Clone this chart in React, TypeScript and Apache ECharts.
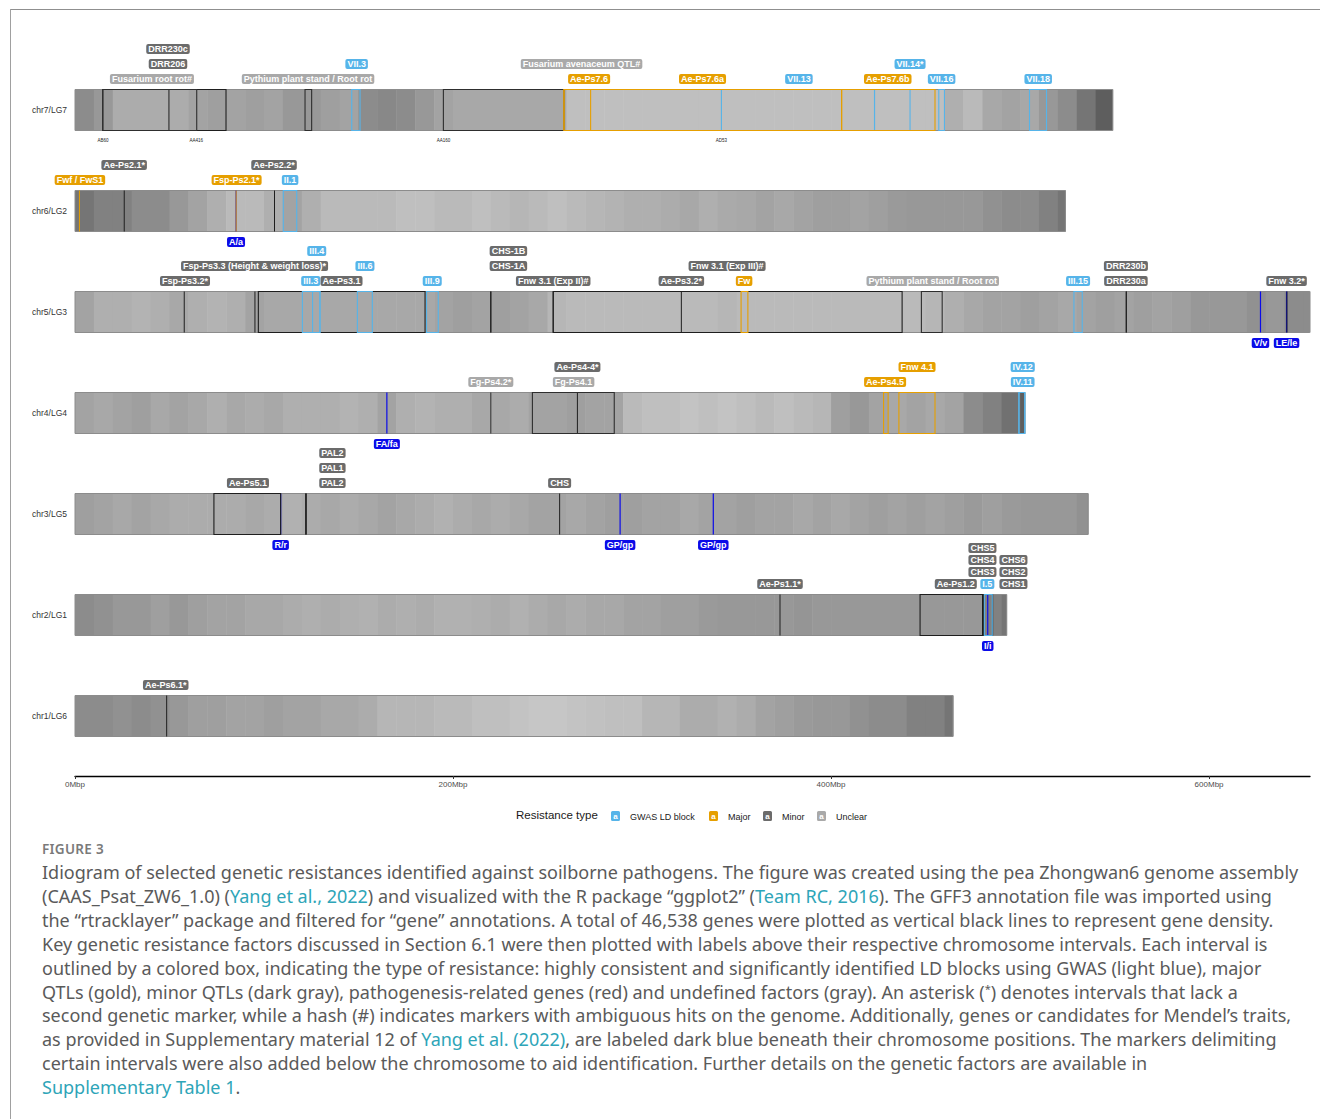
import React, { useEffect, useRef } from "react";
import * as echarts from "echarts";

const FONT = '"Liberation Sans", Arial, Helvetica, sans-serif';

const chromosomes = ["chr7/LG7", "chr6/LG2", "chr5/LG3", "chr4/LG4", "chr3/LG5", "chr2/LG1", "chr1/LG6"];
const chromLengths = [549, 524, 653.3, 502.5, 536, 492.9, 464.5];
const labelRowGap = [15, 15, 15, 15, 15, 12, 15];
const binSize = 10;
const xTicks = [0, 200, 400, 600];

// gene density (darkness 0..1) per 10 Mbp bin
const density_chr7 = [0.5, 0.45, 0.36, 0.36, 0.36, 0.36, 0.4, 0.42, 0.4, 0.42,
  0.4, 0.45, 0.45, 0.42, 0.4, 0.5, 0.52, 0.5, 0.45, 0.4,
  0.38, 0.38, 0.38, 0.38, 0.38, 0.38, 0.28, 0.28, 0.28, 0.28,
  0.28, 0.28, 0.28, 0.28, 0.28, 0.28, 0.28, 0.28, 0.28, 0.28,
  0.28, 0.28, 0.28, 0.28, 0.28, 0.28, 0.35, 0.3, 0.38, 0.4,
  0.38, 0.45, 0.5, 0.6, 0.7];
const density_chr6 = [0.6, 0.55, 0.55, 0.5, 0.5, 0.45, 0.4, 0.35, 0.3, 0.3,
  0.35, 0.4, 0.35, 0.3, 0.3, 0.3, 0.3, 0.28, 0.28, 0.3,
  0.3, 0.28, 0.3, 0.32, 0.3, 0.28, 0.3, 0.32, 0.33, 0.35,
  0.35, 0.36, 0.38, 0.35, 0.37, 0.38, 0.4, 0.38, 0.4, 0.42,
  0.42, 0.4, 0.42, 0.44, 0.45, 0.45, 0.45, 0.45, 0.48, 0.5,
  0.5, 0.55, 0.6];
const density_chr5 = [0.4, 0.35, 0.35, 0.33, 0.35, 0.38, 0.35, 0.33, 0.35, 0.4,
  0.38, 0.38, 0.38, 0.38, 0.38, 0.38, 0.38, 0.38, 0.38, 0.4,
  0.42, 0.4, 0.42, 0.4, 0.38, 0.32, 0.3, 0.3, 0.3, 0.3,
  0.3, 0.3, 0.3, 0.3, 0.32, 0.3, 0.3, 0.3, 0.3, 0.3,
  0.3, 0.3, 0.3, 0.3, 0.3, 0.32, 0.35, 0.38, 0.4, 0.4,
  0.42, 0.4, 0.38, 0.4, 0.42, 0.4, 0.42, 0.4, 0.42, 0.45,
  0.45, 0.45, 0.48, 0.45, 0.5, 0.5];
const density_chr4 = [0.4, 0.38, 0.4, 0.42, 0.38, 0.4, 0.38, 0.35, 0.38, 0.36,
  0.38, 0.35, 0.35, 0.35, 0.33, 0.35, 0.4, 0.35, 0.33, 0.35,
  0.35, 0.38, 0.38, 0.36, 0.4, 0.4, 0.42, 0.4, 0.4, 0.3,
  0.28, 0.28, 0.26, 0.28, 0.26, 0.28, 0.3, 0.28, 0.3, 0.32,
  0.42, 0.45, 0.4, 0.38, 0.4, 0.38, 0.4, 0.5, 0.55, 0.62,
  0.7];
const density_chr3 = [0.42, 0.4, 0.38, 0.4, 0.38, 0.36, 0.36, 0.36, 0.36, 0.38,
  0.36, 0.34, 0.36, 0.38, 0.36, 0.38, 0.4, 0.38, 0.36, 0.34,
  0.36, 0.38, 0.36, 0.38, 0.4, 0.4, 0.38, 0.4, 0.42, 0.42,
  0.4, 0.4, 0.38, 0.4, 0.4, 0.42, 0.4, 0.4, 0.38, 0.4,
  0.38, 0.4, 0.42, 0.4, 0.42, 0.4, 0.42, 0.44, 0.42, 0.44,
  0.45, 0.45, 0.45, 0.48];
const density_chr2 = [0.5, 0.48, 0.45, 0.45, 0.42, 0.45, 0.42, 0.4, 0.4, 0.38,
  0.38, 0.36, 0.35, 0.36, 0.35, 0.34, 0.36, 0.35, 0.36, 0.34,
  0.34, 0.35, 0.36, 0.34, 0.36, 0.38, 0.36, 0.38, 0.38, 0.4,
  0.4, 0.42, 0.42, 0.44, 0.45, 0.45, 0.45, 0.45, 0.46, 0.45,
  0.45, 0.45, 0.45, 0.45, 0.45, 0.45, 0.45, 0.45, 0.55, 0.6];
const density_chr1 = [0.5, 0.5, 0.48, 0.5, 0.48, 0.45, 0.42, 0.42, 0.4, 0.4,
  0.42, 0.4, 0.4, 0.38, 0.38, 0.36, 0.32, 0.32, 0.32, 0.3,
  0.3, 0.28, 0.28, 0.26, 0.25, 0.25, 0.26, 0.27, 0.28, 0.28,
  0.32, 0.32, 0.36, 0.36, 0.34, 0.36, 0.4, 0.42, 0.44, 0.45,
  0.45, 0.48, 0.5, 0.5, 0.55, 0.55, 0.6];
const densities = [density_chr7, density_chr6, density_chr5, density_chr4, density_chr3, density_chr2, density_chr1];

const resistanceTypes = ["GWAS LD block", "Major", "Minor", "Unclear"];
const typeColors = ["#56B4E9", "#E69F00", "#6B6B6B", "#A9A9A9"];
const boxColors = ["#56B4E9", "#E69F00", "#1e1e1e", "#2e2e2e"];

// [chrIndex, start Mbp, end Mbp, typeIndex, label, label position Mbp, label row]
const intervals: [number, number, number, number, string, number, number][] = [
  [0, 14.7, 64.4, 3, "Fusarium root rot#", 40.7, 1],
  [0, 14.7, 79.9, 2, "DRR206", 49.2, 2],
  [0, 49.5, 49.9, 2, "DRR230c", 49.2, 3],
  [0, 121.7, 125.2, 3, "Pythium plant stand / Root rot", 123.3, 1],
  [0, 146.4, 150.8, 0, "VII.3", 149, 2],
  [0, 194.9, 258.7, 3, "Fusarium avenaceum QTL#", 268, 2],
  [0, 342, 423, 0, "VII.13", 383, 1],
  [0, 423, 441.8, 0, "VII.14*", 441.8, 2],
  [0, 457, 460, 0, "VII.16", 458.5, 1],
  [0, 505, 514, 0, "VII.18", 509.6, 1],
  [0, 258.7, 272.8, 1, "Ae-Ps7.6", 272, 1],
  [0, 258.7, 405.6, 1, "Ae-Ps7.6a", 332, 1],
  [0, 405.6, 455, 1, "Ae-Ps7.6b", 430, 1],
  [1, 2.1, 2.6, 1, "Fwf / FwS1", 2.6, 1],
  [1, 25.8, 26.3, 2, "Ae-Ps2.1*", 26, 2],
  [1, 85, 85.5, 1, "Fsp-Ps2.1*", 85.5, 1],
  [1, 105.3, 105.8, 2, "Ae-Ps2.2*", 105.3, 2],
  [1, 110.2, 117.3, 0, "II.1", 113.8, 1],
  [2, 57.6, 58, 2, "Fsp-Ps3.2*", 58.2, 1],
  [2, 95, 95.4, 2, "Fsp-Ps3.3 (Height & weight loss)*", 95, 2],
  [2, 97, 185.2, 2, "Ae-Ps3.1", 141, 1],
  [2, 120.3, 129.6, 0, "III.3", 124.7, 1],
  [2, 125.7, 129.6, 0, "III.4", 127.9, 3],
  [2, 149.4, 157.3, 0, "III.6", 153.4, 2],
  [2, 186, 192.2, 0, "III.9", 189, 1],
  [2, 219.8, 220.2, 2, "CHS-1A", 229.3, 2],
  [2, 219.8, 220.2, 2, "CHS-1B", 229.3, 3],
  [2, 252.8, 253.2, 2, "Fnw 3.1 (Exp II)#", 253, 1],
  [2, 253, 437.6, 2, "Fnw 3.1 (Exp III)#", 345, 2],
  [2, 320.6, 321, 2, "Ae-Ps3.2*", 320.8, 1],
  [2, 352.4, 356, 1, "Fw", 354, 1],
  [2, 447.8, 458.8, 3, "Pythium plant stand / Root rot", 453.8, 1],
  [2, 528.5, 532.9, 0, "III.15", 530.7, 1],
  [2, 556, 556.4, 2, "DRR230a", 556, 1],
  [2, 556, 556.4, 2, "DRR230b", 556, 2],
  [2, 641, 641.4, 2, "Fnw 3.2*", 641, 1],
  [3, 219.8, 220.2, 3, "Fg-Ps4.2*", 220, 1],
  [3, 242, 285.3, 3, "Fg-Ps4.1", 263.8, 1],
  [3, 265.6, 266, 2, "Ae-Ps4-4*", 265.8, 2],
  [3, 427.8, 430.2, 1, "Ae-Ps4.5", 428.6, 1],
  [3, 435.9, 455, 1, "Fnw 4.1", 445.5, 2],
  [3, 499.4, 502.5, 0, "IV.11", 501.4, 1],
  [3, 499.4, 502.5, 0, "IV.12", 501.4, 2],
  [4, 73.5, 108.8, 2, "Ae-Ps5.1", 91.5, 1],
  [4, 122, 122.4, 2, "PAL2", 136.2, 1],
  [4, 122, 122.4, 2, "PAL1", 136.2, 2],
  [4, 122, 122.4, 2, "PAL2", 136.2, 3],
  [4, 256.2, 256.6, 2, "CHS", 256.4, 1],
  [5, 372.8, 373.2, 2, "Ae-Ps1.1*", 373, 1],
  [5, 447.1, 480.6, 2, "Ae-Ps1.2", 466, 1],
  [5, 480, 480.4, 2, "CHS3", 480.1, 2],
  [5, 480, 480.4, 2, "CHS4", 480.1, 3],
  [5, 480, 480.4, 2, "CHS5", 480.1, 4],
  [5, 485.3, 485.6, 2, "CHS1", 496.5, 1],
  [5, 485.3, 485.6, 2, "CHS2", 496.5, 2],
  [5, 485.3, 485.6, 2, "CHS6", 496.5, 3],
  [5, 481.1, 485.3, 0, "I.5", 482.7, 1],
  [6, 48.3, 48.7, 2, "Ae-Ps6.1*", 48, 1],
];

// Mendel trait genes: [chrIndex, position Mbp, label]
const mendelGenes: [number, number, string][] = [
  [1, 85.2, "A/a"],
  [2, 627.2, "V/v"],
  [2, 641, "LE/le"],
  [3, 165, "FA/fa"],
  [4, 108.8, "R/r"],
  [4, 288.4, "GP/gp"],
  [4, 337.7, "GP/gp"],
  [5, 482.9, "I/i"],
];

// interval-delimiting markers: [chrIndex, position Mbp, label]
const markers: [number, number, string][] = [
  [0, 14.8, "AB60"],
  [0, 64.2, "AA416"],
  [0, 194.9, "AA160"],
  [0, 342, "AD53"],
];

const captionLines: any[][] = [
  ["Idiogram of selected genetic resistances identified against soilborne pathogens. The figure was created using the pea Zhongwan6 genome assembly"],
  ["(CAAS_Psat_ZW6_1.0) (", { link: "Yang et al., 2022" }, ") and visualized with the R package “ggplot2” (", { link: "Team RC, 2016" }, "). The GFF3 annotation file was imported using"],
  ["the “rtracklayer” package and filtered for “gene” annotations. A total of 46,538 genes were plotted as vertical black lines to represent gene density."],
  ["Key genetic resistance factors discussed in Section 6.1 were then plotted with labels above their respective chromosome intervals. Each interval is"],
  ["outlined by a colored box, indicating the type of resistance: highly consistent and significantly identified LD blocks using GWAS (light blue), major"],
  ["QTLs (gold), minor QTLs (dark gray), pathogenesis-related genes (red) and undefined factors (gray). An asterisk (", { sup: "*" }, ") denotes intervals that lack a"],
  ["second genetic marker, while a hash (#) indicates markers with ambiguous hits on the genome. Additionally, genes or candidates for Mendel’s traits,"],
  ["as provided in Supplementary material 12 of ", { link: "Yang et al. (2022)" }, ", are labeled dark blue beneath their chromosome positions. The markers delimiting"],
  ["certain intervals were also added below the chromosome to aid identification. Further details on the genetic factors are available in"],
  [{ link: "Supplementary Table 1" }, "."],
];

const BAR_H = 41;
const MENDEL_BLUE = "#0B0BE8";

function Chart() {
  const ref = useRef<HTMLDivElement>(null);
  useEffect(() => {
    if (!ref.current) return;
    const chart = echarts.init(ref.current, undefined, { renderer: "svg" });

    const binData: number[][] = [];
    densities.forEach((arr, ci) => {
      arr.forEach((d, bi) => {
        const s = bi * binSize;
        const e = Math.min((bi + 1) * binSize, chromLengths[ci]);
        binData.push([s, e, ci, d]);
      });
    });
    const outlineData = chromLengths.map((len, ci) => [0, len, ci]);
    const rank = [2, 3, 0, 1];
    const boxOrder = intervals.map((iv, i) => i).sort((a, b) => rank[intervals[a][3]] - rank[intervals[b][3]]);
    const boxData = boxOrder.map((i) => [intervals[i][1], intervals[i][2], intervals[i][0], i]);
    const labelData = intervals.map((iv) => [iv[5], iv[0]]);
    const mendelData = mendelGenes.map((g) => [g[1], g[0]]);
    const markerData = markers.map((m) => [m[1], m[0]]);

    const legendKeyX = [611, 709, 763, 817];
    const legendGraphics: any[] = [
      { type: "text", left: 516, top: 809, style: { text: "Resistance type", fontSize: 11.5, fontFamily: FONT, fill: "#1a1a1a" } },
    ];
    resistanceTypes.forEach((t, i) => {
      legendGraphics.push({
        type: "rect", shape: { x: legendKeyX[i], y: 811, width: 9, height: 10, r: 1.5 },
        style: { fill: typeColors[i] },
      });
      legendGraphics.push({
        type: "text", x: legendKeyX[i] + 4.5, y: 816,
        style: { text: "a", fill: "#fff", fontSize: 8, fontWeight: "bold", fontFamily: FONT, align: "center", verticalAlign: "middle" },
      });
      legendGraphics.push({
        type: "text", x: legendKeyX[i] + 19, y: 816.5,
        style: { text: t, fill: "#1a1a1a", fontSize: 9, fontFamily: FONT, align: "left", verticalAlign: "middle" },
      });
    });

    const option: any = {
      animation: false,
      grid: { left: 75, top: 59.5, width: 1235, height: 707, containLabel: false },
      xAxis: {
        type: "value", min: 0, max: 653.4, offset: 9.5,
        axisLine: { show: true, lineStyle: { color: "#000", width: 1.3 } },
        axisTick: { show: true, length: 3, customValues: xTicks, lineStyle: { color: "#333" } },
        axisLabel: { customValues: xTicks, formatter: (v: number) => `${v}Mbp`, fontSize: 8, color: "#4d4d4d", fontFamily: FONT, margin: 4 },
        splitLine: { show: false },
      },
      yAxis: {
        type: "category", data: chromosomes, inverse: true,
        axisLine: { show: false }, axisTick: { show: false },
        axisLabel: { fontSize: 8.5, color: "#333", fontFamily: FONT, margin: 8 },
        splitLine: { show: false },
      },
      graphic: legendGraphics,
      series: [
        {
          type: "custom", name: "density", z: 1, data: binData, encode: { x: [0, 1], y: 2 },
          renderItem: (params: any, api: any) => {
            const s = api.coord([api.value(0), api.value(2)]);
            const e = api.coord([api.value(1), api.value(2)]);
            const g = Math.round(255 * (1 - 0.9 * api.value(3)));
            return {
              type: "rect",
              shape: { x: s[0], y: s[1] - BAR_H / 2, width: e[0] - s[0] + 0.5, height: BAR_H },
              style: { fill: `rgb(${g},${g},${g})` },
            };
          },
        },
        {
          type: "custom", name: "outline", z: 2, data: outlineData, encode: { x: [0, 1], y: 2 },
          renderItem: (params: any, api: any) => {
            const s = api.coord([api.value(0), api.value(2)]);
            const e = api.coord([api.value(1), api.value(2)]);
            return {
              type: "rect",
              shape: { x: s[0], y: s[1] - BAR_H / 2, width: e[0] - s[0], height: BAR_H },
              style: { fill: "none", stroke: "#8c8c8c", lineWidth: 1 },
            };
          },
        },
        {
          type: "custom", name: "mendelLines", z: 3, data: mendelData, encode: { x: 0, y: 1 },
          renderItem: (params: any, api: any) => {
            const c = api.coord([api.value(0), api.value(1)]);
            return {
              type: "line",
              shape: { x1: c[0], y1: c[1] - BAR_H / 2, x2: c[0], y2: c[1] + BAR_H / 2 },
              style: { stroke: MENDEL_BLUE, lineWidth: 1.2 },
            };
          },
        },
        {
          type: "custom", name: "boxes", z: 4, data: boxData, encode: { x: [0, 1], y: 2 },
          renderItem: (params: any, api: any) => {
            const iv = intervals[boxData[params.dataIndex][3]];
            const s = api.coord([iv[1], iv[0]]);
            const e = api.coord([iv[2], iv[0]]);
            const w = e[0] - s[0];
            if (w < 1.5) {
              const xm = (s[0] + e[0]) / 2;
              return {
                type: "line",
                shape: { x1: xm, y1: s[1] - BAR_H / 2, x2: xm, y2: s[1] + BAR_H / 2 },
                style: { stroke: boxColors[iv[3]], lineWidth: 1 },
              };
            }
            return {
              type: "rect",
              shape: { x: s[0], y: s[1] - BAR_H / 2, width: w, height: BAR_H },
              style: { fill: "none", stroke: boxColors[iv[3]], lineWidth: 1.1 },
            };
          },
        },
        {
          type: "custom", name: "labels", z: 5, data: labelData, encode: { x: 0, y: 1 },
          renderItem: (params: any, api: any) => {
            const iv = intervals[params.dataIndex];
            const c = api.coord([iv[5], iv[0]]);
            const y = c[1] - BAR_H / 2 - 10.5 - (iv[6] - 1) * labelRowGap[iv[0]];
            return {
              type: "text", x: c[0], y,
              style: {
                text: iv[4], fill: "#fff", fontSize: 9, fontWeight: "bold", fontFamily: FONT,
                align: "center", verticalAlign: "middle",
                backgroundColor: typeColors[iv[3]], padding: [0.5, 2, 0.5, 2], borderRadius: 2,
              },
            };
          },
        },
        {
          type: "custom", name: "mendelLabels", z: 5, data: mendelData, encode: { x: 0, y: 1 },
          renderItem: (params: any, api: any) => {
            const g = mendelGenes[params.dataIndex];
            const c = api.coord([g[1], g[0]]);
            return {
              type: "text", x: c[0], y: c[1] + BAR_H / 2 + 10.5,
              style: {
                text: g[2], fill: "#fff", fontSize: 9, fontWeight: "bold", fontFamily: FONT,
                align: "center", verticalAlign: "middle",
                backgroundColor: MENDEL_BLUE, padding: [0.5, 2, 0.5, 2], borderRadius: 2,
              },
            };
          },
        },
        {
          type: "custom", name: "markers", z: 5, data: markerData, encode: { x: 0, y: 1 },
          renderItem: (params: any, api: any) => {
            const m = markers[params.dataIndex];
            const c = api.coord([m[1], m[0]]);
            return {
              type: "text", x: c[0], y: c[1] + BAR_H / 2 + 10,
              style: { text: m[2], fill: "#222", fontSize: 4.5, fontFamily: FONT, align: "center", verticalAlign: "middle" },
            };
          },
        },
      ],
    };
    chart.setOption(option);
    return () => chart.dispose();
  }, []);
  return <div ref={ref} style={{ position: "absolute", left: 0, top: 0, width: 1320, height: 832 }} />;
}

export default function App() {
  const linkColor = "#2ea5b8";
  return (
    <div style={{ position: "absolute", left: 0, top: 0, width: 1320, height: 1119, overflow: "hidden", background: "#fff" }}>
      <div style={{ position: "absolute", left: 10, top: 9, width: 1310, height: 0, borderTop: "1.5px solid #8f8f8f" }} />
      <div style={{ position: "absolute", left: 10, top: 9, width: 0, height: 1110, borderLeft: "1.5px solid #a0a0a0" }} />
      <Chart />
      <div style={{ position: "absolute", left: 42, top: 840, fontFamily: '"Noto Sans", sans-serif', fontSize: 13.5, fontWeight: 600, color: "#7a7a7a", letterSpacing: 0.3, lineHeight: "18px", whiteSpace: "nowrap" }}>
        FIGURE 3
      </div>
      {captionLines.map((parts, i) => (
        <div key={i} style={{ position: "absolute", left: 42, top: 860 + i * 23.9, fontFamily: '"Noto Sans", sans-serif', fontSize: 18, color: "#5a5a5a", lineHeight: "24px", height: 24, whiteSpace: "nowrap" }}>
          {parts.map((p: any, j: number) =>
            typeof p === "string" ? <span key={j}>{p}</span> :
              p.link ? <span key={j} style={{ color: linkColor }}>{p.link}</span> :
                <span key={j} style={{ fontSize: 11, position: "relative", top: -6 }}>{p.sup}</span>
          )}
        </div>
      ))}
    </div>
  );
}
